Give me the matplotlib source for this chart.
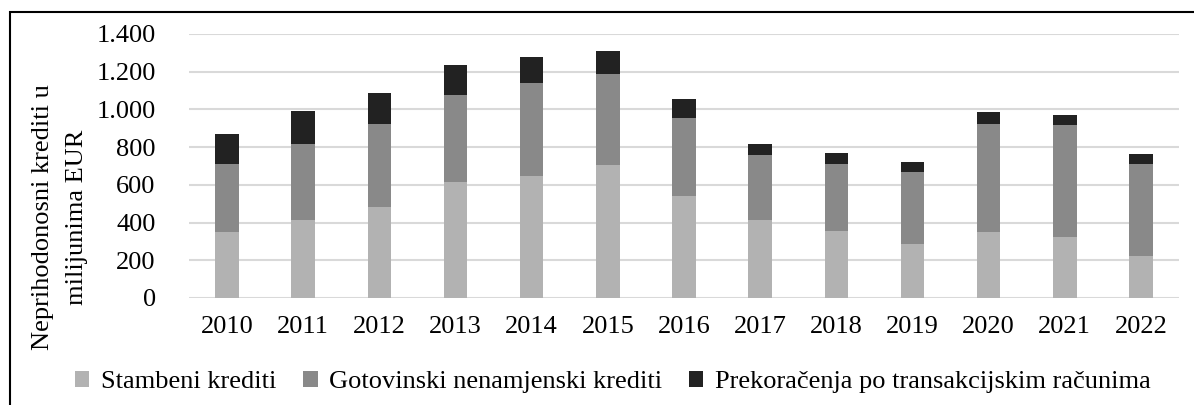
import matplotlib.pyplot as plt
from matplotlib.patches import Rectangle
import numpy as np

years = ["2010", "2011", "2012", "2013", "2014", "2015", "2016",
         "2017", "2018", "2019", "2020", "2021", "2022"]
stambeni = [352, 415, 484, 615, 645, 707, 542, 415, 357, 288, 348, 321, 221]
gotovinski = [358, 403, 438, 460, 497, 479, 412, 345, 355, 382, 574, 594, 489]
prekoracenja = [160, 174, 167, 161, 136, 124, 101, 57, 55, 53, 62, 57, 52]

labels = ["Stambeni krediti", "Gotovinski nenamjenski krediti",
          "Prekoračenja po transakcijskim računima"]
colors = ["#b2b2b2", "#898989", "#222222"]

W, H = 1194, 405
plt.rcParams["font.family"] = ["Liberation Serif", "DejaVu Serif"]
fs = 19

fig = plt.figure(figsize=(W / 100, H / 100), dpi=100)
ax = fig.add_axes([189 / W, 1 - 298 / H, (1179 - 189) / W, (298 - 34) / H])

x = np.arange(len(years))
width = 0.31
bottom = np.zeros(len(years))
for vals, lab, col in zip([stambeni, gotovinski, prekoracenja], labels, colors):
    ax.bar(x, vals, width, bottom=bottom, color=col, label=lab, zorder=3)
    bottom += np.array(vals)

ax.set_xlim(-0.5, len(years) - 0.5)
ax.set_ylim(0, 1400)
ax.set_yticks(range(0, 1401, 200))
ax.set_yticklabels([f"{v:,}".replace(",", ".") for v in range(0, 1401, 200)])
ax.set_xticks(x)
ax.set_xticklabels(years)
ax.tick_params(axis="both", length=0, labelsize=fs, colors="black")
ax.tick_params(axis="y", pad=24)
ax.tick_params(axis="x", pad=13)
ax.yaxis.grid(True, color="#d9d9d9", linewidth=1.5, zorder=0)
for s in ax.spines.values():
    s.set_visible(False)

fig.text(60 / W, 1 - 217 / H, "Neprihodonosni krediti u\nmilijunima EUR",
         rotation=90, ha="center", va="center", fontsize=fs, linespacing=1.7)

fig.legend(loc="center", bbox_to_anchor=(613 / W, 1 - 382 / H), ncol=3,
           frameon=False, fontsize=fs, handlelength=0.55, handleheight=0.55,
           handletextpad=0.45, columnspacing=1.0)

fig.patches.append(Rectangle((10 / W, -0.1), 1.2, 1.1 - 12 / H,
                             transform=fig.transFigure, fill=False,
                             edgecolor="black", linewidth=1.5))

fig.savefig("out.png", dpi=100)
